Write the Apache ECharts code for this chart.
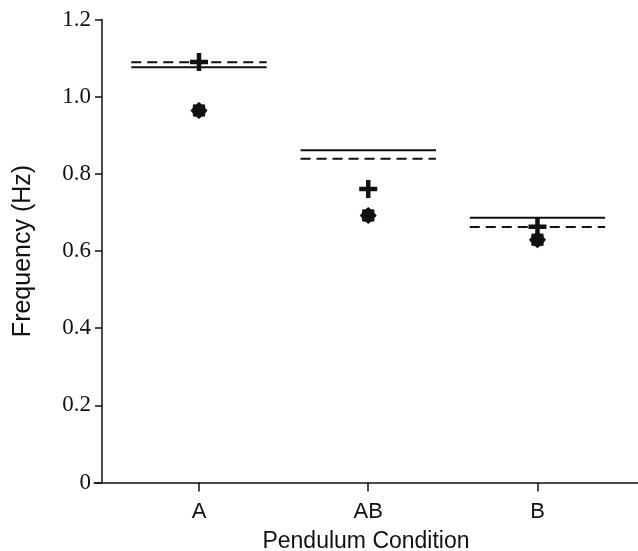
<!DOCTYPE html>
<html>
<head>
<meta charset="utf-8">
<script src="https://cdn.jsdelivr.net/npm/echarts@6/dist/echarts.min.js"></script>
<style>html,body{margin:0;padding:0;background:#fff;}#c{width:638px;height:551px;}</style>
</head>
<body>
<div id="c"></div>
<script>
var categories = ['A', 'AB', 'B'];
var categoryPos = [1, 2, 3];
var solidValues = [1.076, 0.861, 0.686];
var dashedValues = [1.089, 0.839, 0.662];
var plusValues = [1.090, 0.761, 0.663];
var starValues = [0.964, 0.692, 0.629];
var yTicks = [0, 0.2, 0.4, 0.6, 0.8, 1.0, 1.2];

var halfWidth = 0.4;
var ink = '#111';

function starPath(n, rOut, rIn) {
  var pts = [];
  for (var i = 0; i < 2 * n; i++) {
    var r = i % 2 === 0 ? rOut : rIn;
    var a = Math.PI * i / n - Math.PI / 2;
    pts.push((i ? 'L' : 'M') + (10 + 10 * r * Math.cos(a)).toFixed(3) + ' ' + (10 + 10 * r * Math.sin(a)).toFixed(3));
  }
  return 'path://' + pts.join(' ') + ' Z';
}
var plusPath = 'path://M7.5 0 L12.5 0 L12.5 7.5 L20 7.5 L20 12.5 L12.5 12.5 L12.5 20 L7.5 20 L7.5 12.5 L0 12.5 L0 7.5 L7.5 7.5 Z';

var series = [];
categoryPos.forEach(function (p, i) {
  series.push({
    type: 'line', data: [[p - halfWidth, solidValues[i]], [p + halfWidth, solidValues[i]]],
    symbol: 'none', silent: true,
    lineStyle: { color: ink, width: 2, type: 'solid' }
  });
  series.push({
    type: 'line', data: [[p - halfWidth, dashedValues[i]], [p + halfWidth, dashedValues[i]]],
    symbol: 'none', silent: true,
    lineStyle: { color: ink, width: 2, type: [10, 6] }
  });
});
series.push({
  type: 'scatter', symbol: starPath(8, 1, 0.8), symbolSize: 17,
  itemStyle: { color: ink, opacity: 1 },
  data: categoryPos.map(function (p, i) { return [p, starValues[i]]; })
});
series.push({
  type: 'scatter', symbol: plusPath, symbolSize: 18,
  itemStyle: { color: ink, opacity: 1 },
  data: categoryPos.map(function (p, i) { return [p, plusValues[i]]; })
});

var chart = echarts.init(document.getElementById('c'));
chart.setOption({
  animation: false,
  backgroundColor: '#fff',
  grid: { left: 94, right: 0, top: 19.5, bottom: 68.5, containLabel: false, outerBoundsMode: 'none' },
  xAxis: {
    type: 'value', min: 0.3796, max: 3.594,
    name: 'Pendulum Condition', nameLocation: 'middle', nameGap: 48,
    nameTextStyle: { fontFamily: 'Liberation Sans', fontSize: 23, color: ink },
    axisLine: { show: true, onZero: false, lineStyle: { color: ink, width: 1.5 } },
    axisTick: { show: true, length: 9, customValues: categoryPos, lineStyle: { color: ink, width: 1.5 } },
    axisLabel: {
      customValues: categoryPos, margin: 18,
      fontFamily: 'Liberation Sans', fontSize: 22, color: ink,
      formatter: function (v) { var k = categoryPos.indexOf(Math.round(v)); return k >= 0 ? categories[k] : ''; }
    },
    splitLine: { show: false }
  },
  yAxis: {
    type: 'value', min: 0, max: 1.2, interval: 0.2, offset: -8,
    name: 'Frequency (Hz)', nameLocation: 'middle', nameGap: 66,
    nameTextStyle: { fontFamily: 'Liberation Sans', fontSize: 25, color: ink },
    axisLine: { show: true, lineStyle: { color: ink, width: 1.5 } },
    axisTick: { show: true, length: 7, lineStyle: { color: ink, width: 1.5 } },
    axisLabel: {
      margin: 11, fontFamily: 'Liberation Serif', fontSize: 23, color: ink,
      formatter: function (v) { return v === 0 ? '0' : v.toFixed(1); }
    },
    splitLine: { show: false }
  },
  series: series
});
</script>
</body>
</html>
